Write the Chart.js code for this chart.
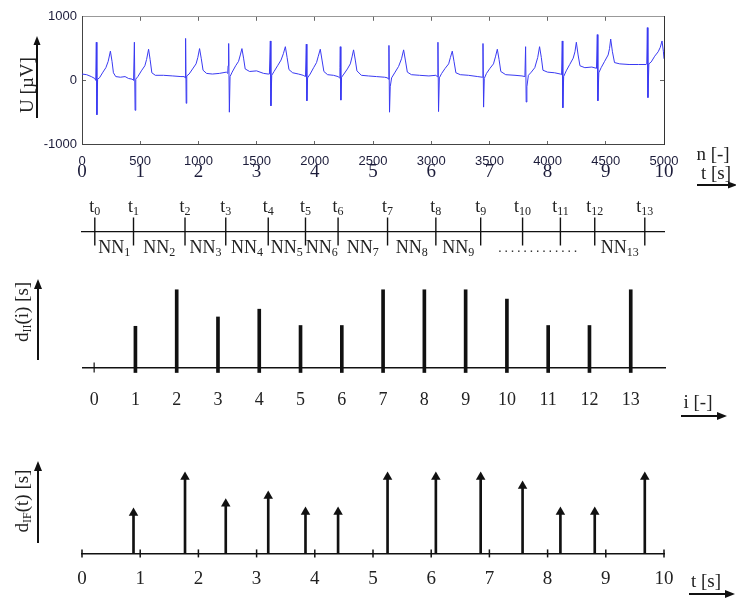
<!DOCTYPE html>
<html>
<head>
<meta charset="utf-8">
<script src="https://cdn.jsdelivr.net/npm/chart.js@4.4.1/dist/chart.umd.min.js"></script>
<style>
  html, body { margin: 0; padding: 0; background: #fff; }
  #stage { position: relative; width: 736px; height: 602px; overflow: hidden;
           font-family: 'Liberation Serif', serif; color: #222; }
  .box { position: absolute; left: 0; }
  .lbl { position: absolute; white-space: nowrap; font-size: 19px; line-height: 1;
         transform: translate(-50%, -50%); }
  .rot { transform: translate(-50%, -50%) rotate(-90deg); }
  .lbl sub { font-size: 12px; vertical-align: -3px; }
  svg.arrows { position: absolute; left: 0; top: 0; pointer-events: none; }
</style>
</head>
<body>
<div id="stage">
  <div class="box" style="top:0"><canvas id="ecg" width="736" height="190"></canvas></div>
  <div class="box" style="top:190px"><canvas id="timeline" width="736" height="80"></canvas></div>
  <div class="box" style="top:270px"><canvas id="dii" width="736" height="150"></canvas></div>
  <div class="box" style="top:440px"><canvas id="dif" width="736" height="162"></canvas></div>

  <div class="lbl rot" style="left:26px;top:85px">U [µV]</div>
  <div class="lbl" style="left:713px;top:153px">n [-]</div>
  <div class="lbl" style="left:716px;top:172px">t [s]</div>
  <div class="lbl rot" style="left:22px;top:312px">d<sub>II</sub>(i) [s]</div>
  <div class="lbl" style="left:698px;top:401px">i [-]</div>
  <div class="lbl rot" style="left:22px;top:501px">d<sub>IF</sub>(t) [s]</div>
  <div class="lbl" style="left:706px;top:580px">t [s]</div>

  <svg class="arrows" width="736" height="602">
    <g stroke="#111" stroke-width="2" fill="#111">
      <line x1="37" y1="118" x2="37" y2="44"/><polygon points="37,36 33.5,45 40.5,45" stroke="none"/>
      <line x1="697" y1="185" x2="728" y2="185"/><polygon points="737,185 728,181.5 728,188.5" stroke="none"/>
      <line x1="38" y1="360" x2="38" y2="288"/><polygon points="38,279 34,289 42,289" stroke="none"/>
      <line x1="681" y1="416" x2="717" y2="416"/><polygon points="727,416 717,412 717,420" stroke="none"/>
      <line x1="38" y1="543" x2="38" y2="470"/><polygon points="38,461 34,471 42,471" stroke="none"/>
      <line x1="689" y1="594" x2="725" y2="594"/><polygon points="735,594 725,590 725,598" stroke="none"/>
    </g>
  </svg>
</div>

<script>
// ===== DATA =====
// ECG trace, [sample n, U in µV], 500 samples per second
const ecgTrace = [
  [0,100],[40,90],[80,60],[110,30],[118,0],[123,600],[128,-540],[134,20],[150,40],[180,130],[205,200],[225,300],[244,460],[258,300],[270,120],[290,60],[330,50],[370,60],[400,30],[430,20],
  [443,0],[450,600],[456,-470],[462,20],[480,60],[510,150],[540,230],[555,330],[572,490],[585,330],[600,120],[630,80],[700,80],[780,70],[850,60],
  [880,60],[885,40],[890,660],[895,-360],[900,70],[920,100],[950,180],[980,260],[995,360],[1010,500],[1025,340],[1040,160],[1070,110],[1120,100],[1180,110],[1240,130],
  [1252,110],[1255,230],[1258,260],[1262,580],[1266,-500],[1272,60],[1290,130],[1320,230],[1345,300],[1360,400],[1374,500],[1388,350],[1402,180],[1440,140],[1500,150],[1560,110],[1600,100],
  [1610,100],[1618,620],[1623,-400],[1630,80],[1650,140],[1680,230],[1710,320],[1730,420],[1747,530],[1762,360],[1778,170],[1810,120],[1860,100],[1900,80],[1920,60],
  [1927,570],[1932,-320],[1938,40],[1960,100],[1990,200],[2015,280],[2030,380],[2047,490],[2062,320],[2078,140],[2110,90],[2160,80],[2200,60],[2212,40],
  [2216,200],[2219,530],[2224,-310],[2230,50],[2250,100],[2280,180],[2305,260],[2320,370],[2333,480],[2348,320],[2362,150],[2400,80],[2460,70],[2530,60],[2600,50],[2625,40],
  [2632,20],[2637,550],[2642,-500],[2648,-100],[2660,40],[2690,130],[2720,220],[2745,340],[2763,480],[2778,320],[2795,130],[2830,90],[2900,80],[2980,70],[3040,80],[3052,60],
  [3058,600],[3063,-490],[3070,40],[3090,110],[3120,190],[3150,260],[3165,360],[3181,460],[3196,300],[3212,120],[3250,90],[3320,80],[3400,60],[3440,50],
  [3445,580],[3450,-420],[3456,30],[3475,110],[3505,190],[3535,260],[3552,370],[3568,490],[3583,330],[3598,140],[3640,90],[3720,80],[3780,70],[3805,60],
  [3811,530],[3816,-340],[3822,-100],[3835,80],[3860,130],[3890,200],[3915,360],[3931,530],[3946,360],[3960,160],[4000,130],[4060,120],[4110,100],[4120,90],
  [4126,620],[4131,-430],[4138,60],[4160,150],[4190,250],[4220,350],[4235,450],[4247,600],[4262,400],[4278,230],[4320,200],[4380,210],[4420,190],
  [4427,720],[4432,-320],[4440,120],[4460,200],[4490,300],[4520,400],[4532,500],[4542,650],[4557,450],[4575,280],[4620,260],[4700,250],[4780,250],[4845,250],
  [4852,260],[4857,830],[4862,-270],[4870,260],[4890,290],[4920,380],[4950,450],[4968,520],[4983,620],[4995,450],[5000,340]
];

// R-peak instants t0..t13 [s]
const beatTimes = [0.22, 0.885, 1.77, 2.47, 3.20, 3.84, 4.40, 5.25, 6.08, 6.85, 7.57, 8.22, 8.81, 9.67];
// NN intervals labelled on the time line (10..12 replaced by dots)
const nnShown = [1, 2, 3, 4, 5, 6, 7, 8, 9, 13];
// interval index axis and interval lengths d_II(i) (relative units)
const intervalIdx = [0, 1, 2, 3, 4, 5, 6, 7, 8, 9, 10, 11, 12, 13];
const dII = [0.53, 1.0, 0.65, 0.75, 0.54, 0.54, 1.0, 1.0, 1.0, 0.88, 0.54, 0.54, 1.0];
// time axis labels [s]
const secLabels = [0, 1, 2, 3, 4, 5, 6, 7, 8, 9, 10];

// ===== shared styles =====
const SERIF = 'Liberation Serif';
const SANS = 'Liberation Sans';
const INK = '#111';
const plain = v => String(v); // no thousands separator
Chart.defaults.animation = false;
Chart.defaults.plugins.legend.display = false;
Chart.defaults.plugins.tooltip.enabled = false;

// ===== 1. ECG trace =====
// bottom axes are pinned to y = -1000 so their labels are not clipped to a box
new Chart(document.getElementById('ecg'), {
  type: 'scatter',
  data: {
    datasets: [{
      data: ecgTrace.map(([n, u]) => ({ x: n, y: u })),
      showLine: true,
      borderColor: '#3a3af2',
      borderWidth: 1,
      pointRadius: 0,
      tension: 0
    }]
  },
  options: {
    responsive: false,
    layout: { padding: { top: 14, right: 72, left: 0, bottom: 46 } },
    scales: {
      x: {
        type: 'linear', position: { y: -1000 }, min: 0, max: 5000,
        ticks: { stepSize: 500, padding: 14, callback: plain, color: '#1c1c3a', font: { family: SANS, size: 13 } },
        grid: { drawOnChartArea: false, tickLength: -4, color: '#666' },
        border: { color: '#444' }
      },
      xt: {
        type: 'linear', position: { y: -1000 }, min: 0, max: 10,
        ticks: { stepSize: 1, padding: 17, callback: plain, color: '#1c1c3a', font: { family: SERIF, size: 19 } },
        grid: { drawOnChartArea: false, drawTicks: false },
        border: { display: false }
      },
      xTop: {
        type: 'linear', position: 'top', min: 0, max: 5000,
        afterFit: s => { s.height = 0; },
        ticks: { stepSize: 500, display: false },
        grid: { drawOnChartArea: false, tickLength: -4, color: '#666' },
        border: { color: '#999' }
      },
      y: {
        min: -1000, max: 1000,
        afterFit: s => { s.width = 82; },
        ticks: { stepSize: 1000, padding: 9, callback: plain, color: '#1c1c3a', font: { family: SANS, size: 13 } },
        grid: { drawOnChartArea: false, tickLength: -4, color: '#666' },
        border: { color: '#444' }
      },
      yR: {
        position: 'right', min: -1000, max: 1000,
        afterFit: s => { s.width = 0; },
        ticks: { stepSize: 1000, display: false },
        grid: { drawOnChartArea: false, tickLength: -4, color: '#666' },
        border: { color: '#333' }
      }
    }
  }
});

// ===== 2. time line with R-peak marks and NN intervals =====
function drawSub(ctx, main, sub, cx, base) {
  ctx.font = `18px "${SERIF}"`;
  const w1 = ctx.measureText(main).width;
  ctx.font = `12px "${SERIF}"`;
  const w2 = ctx.measureText(sub).width;
  const x0 = cx - (w1 + w2) / 2;
  ctx.font = `18px "${SERIF}"`;
  ctx.fillText(main, x0, base);
  ctx.font = `12px "${SERIF}"`;
  ctx.fillText(sub, x0 + w1, base + 3);
}

const timelineLabels = {
  id: 'timelineLabels',
  afterDatasetsDraw(chart) {
    const { ctx, scales: { x, y } } = chart;
    const y0 = y.getPixelForValue(0);
    ctx.save();
    ctx.fillStyle = '#222';
    ctx.textAlign = 'left';
    ctx.textBaseline = 'alphabetic';
    beatTimes.forEach((t, i) => drawSub(ctx, 't', String(i), x.getPixelForValue(t), y0 - 20));
    nnShown.forEach(i => {
      const mid = (beatTimes[i - 1] + beatTimes[i]) / 2;
      drawSub(ctx, 'NN', String(i), x.getPixelForValue(mid), y0 + 21);
    });
    // dotted gap for NN10..NN12
    const a = x.getPixelForValue(beatTimes[9]), b = x.getPixelForValue(beatTimes[12]);
    const c = (a + b) / 2;
    for (let k = -6; k <= 6; k++) ctx.fillRect(c + k * 6.3 - 0.7, y0 + 19, 1.4, 1.4);
    ctx.restore();
  }
};

new Chart(document.getElementById('timeline'), {
  type: 'scatter',
  data: {
    datasets: [{
      data: beatTimes.map(t => ({ x: t, y: 0 })),
      pointStyle: 'line',
      rotation: 90,
      radius: 14,
      borderWidth: 1.4,
      borderColor: INK,
      clip: false
    }]
  },
  options: {
    responsive: false,
    layout: { padding: { top: 26, right: 72, left: 82, bottom: 23 } },
    scales: {
      x: {
        type: 'linear', min: 0, max: 10, position: { y: 0 },
        ticks: { display: false },
        grid: { drawOnChartArea: false, drawTicks: false },
        border: { color: INK, width: 1.3 }
      },
      y: { min: -1, max: 1, display: false }
    }
  },
  plugins: [timelineLabels]
});

// ===== 3. d_II(i) stem bars =====
new Chart(document.getElementById('dii'), {
  type: 'bar',
  data: {
    datasets: [{
      data: dII.map((v, k) => ({ x: intervalIdx[k + 1], y: [-0.065, v] })),
      backgroundColor: INK,
      barThickness: 3
    }, {
      type: 'scatter',
      data: [{ x: intervalIdx[0], y: 0 }],
      pointStyle: 'line',
      rotation: 90,
      radius: 5,
      borderWidth: 1.2,
      borderColor: INK,
      clip: false
    }]
  },
  options: {
    responsive: false,
    layout: { padding: { top: 12, right: 71, left: 83, bottom: 37 } },
    scales: {
      x: {
        type: 'linear', min: -0.27, max: 13.83, offset: false, position: { y: 0 },
        afterBuildTicks: s => { s.ticks = intervalIdx.map(v => ({ value: v })); },
        ticks: { padding: 22, color: '#222', font: { family: SERIF, size: 18 } },
        grid: { drawOnChartArea: false, drawTicks: false, offset: false },
        border: { color: INK, width: 1.5 }
      },
      y: { min: -0.2, max: 1.1, display: false }
    }
  }
});

// ===== 4. d_IF(t) arrows at the beat instants =====
const arrowTimes = beatTimes.slice(1);
new Chart(document.getElementById('dif'), {
  type: 'bar',
  data: {
    datasets: [{
      data: dII.map((v, k) => ({ x: arrowTimes[k], y: [0, v] })),
      backgroundColor: INK,
      barThickness: 2
    }, {
      type: 'scatter',
      data: dII.map((v, k) => ({ x: arrowTimes[k], y: v })),
      pointStyle: 'triangle',
      radius: 5.5,
      backgroundColor: INK,
      borderWidth: 0,
      clip: false
    }, {
      type: 'scatter',
      data: secLabels.map(s => ({ x: s, y: 0 })),
      pointStyle: 'line',
      rotation: 90,
      radius: 4,
      borderWidth: 1.5,
      borderColor: INK,
      clip: false
    }]
  },
  options: {
    responsive: false,
    layout: { padding: { top: 14, right: 72, left: 82, bottom: 18 } },
    scales: {
      x: {
        type: 'linear', min: 0, max: 10, offset: false, position: { y: 0 },
        afterBuildTicks: s => { s.ticks = secLabels.map(v => ({ value: v })); },
        ticks: { padding: 14, color: '#222', font: { family: SERIF, size: 19 } },
        grid: { drawOnChartArea: false, drawTicks: false, offset: false },
        border: { color: INK, width: 1.5 }
      },
      y: { min: -0.4, max: 1.3, display: false }
    }
  }
});
</script>
</body>
</html>
